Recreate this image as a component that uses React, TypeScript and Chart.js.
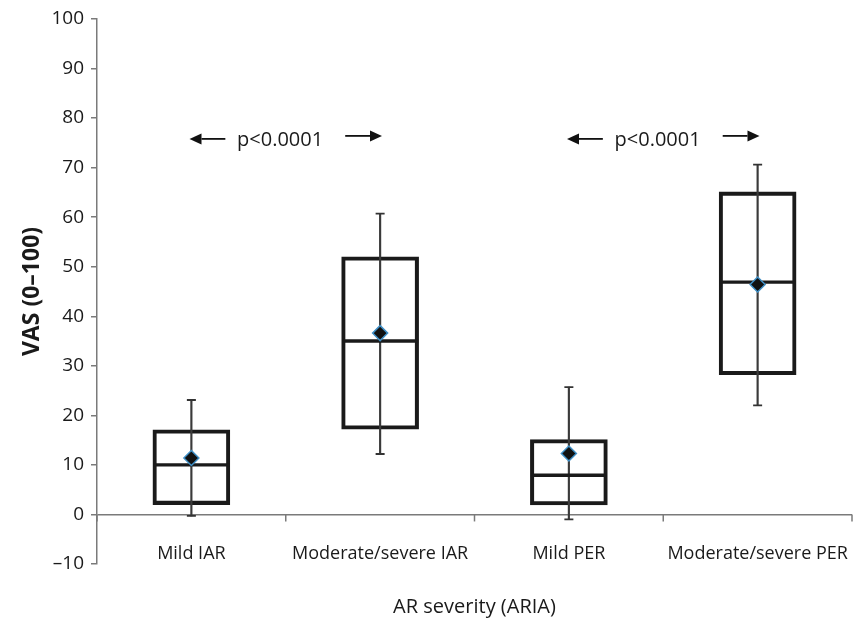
import React, { useEffect, useRef } from "react";
import { Chart, registerables } from "chart.js";

Chart.register(...registerables);

// ---- data ----
const categories = ["Mild IAR", "Moderate/severe IAR", "Mild PER", "Moderate/severe PER"];
const whiskerLow = [-0.3, 12.2, -1.0, 22.0];
const boxLow = [2.0, 17.2, 1.9, 28.2];
const medians = [10.0, 35.0, 7.9, 46.9];
const boxHigh = [17.1, 52.0, 15.1, 65.1];
const whiskerHigh = [23.1, 60.7, 25.7, 70.6];
const means = [11.4, 36.6, 12.3, 46.4];

const yMin = -10;
const yMax = 100;
const yStep = 10;

// comparisons: [from category index, to category index]
const comparisonFrom = [0, 2];
const comparisonTo = [1, 3];
const comparisonLabels = ["p<0.0001", "p<0.0001"];
const comparisonLevel = [75.8, 75.8];

const yTitle = "VAS (0\u2013100)";
const xTitle = "AR severity (ARIA)";

const FONT = "'Open Sans', 'DejaVu Sans', sans-serif";
const TEXT = "#1a1a1a";
const AXIS = "#7a7a7a";
const BOX = "#1a1a1a";

const zeroAxisPlugin = {
  id: "zeroAxis",
  afterDatasetsDraw(chart: any) {
    const x = chart.scales.x;
    const y = chart.scales.y;
    const y0 = y.getPixelForValue(0);
    const ctx = chart.ctx;
    ctx.save();
    ctx.strokeStyle = AXIS;
    ctx.lineWidth = 1.5;
    for (let i = 0; i <= categories.length; i++) {
      const px = x.getPixelForValue(i - 0.5);
      ctx.beginPath();
      ctx.moveTo(px, y0);
      ctx.lineTo(px, y0 + 7);
      ctx.stroke();
    }
    // category labels, placed just above the -10 level
    ctx.fillStyle = TEXT;
    ctx.font = `18px ${FONT}`;
    ctx.textAlign = "center";
    ctx.textBaseline = "middle";
    const ly = y.getPixelForValue(-8.0);
    for (let i = 0; i < categories.length; i++) {
      ctx.fillText(categories[i], x.getPixelForValue(i), ly);
    }
    ctx.restore();
  },
};

function drawArrow(ctx: any, fromX: number, toX: number, yy: number) {
  const dir = toX > fromX ? 1 : -1;
  const head = 12;
  ctx.beginPath();
  ctx.moveTo(fromX, yy);
  ctx.lineTo(toX - dir * head, yy);
  ctx.stroke();
  ctx.beginPath();
  ctx.moveTo(toX, yy);
  ctx.lineTo(toX - dir * head, yy - 5.5);
  ctx.lineTo(toX - dir * head, yy + 5.5);
  ctx.closePath();
  ctx.fill();
}

const comparisonPlugin = {
  id: "comparisons",
  afterDatasetsDraw(chart: any) {
    const x = chart.scales.x;
    const y = chart.scales.y;
    const ctx = chart.ctx;
    ctx.save();
    ctx.lineWidth = 1.8;
    for (let k = 0; k < comparisonFrom.length; k++) {
      const a = comparisonFrom[k];
      const b = comparisonTo[k];
      const span = b - a;
      const yy = y.getPixelForValue(comparisonLevel[k]);
      ctx.strokeStyle = "#111";
      ctx.fillStyle = "#111";
      drawArrow(ctx, x.getPixelForValue(a + 0.18 * span), x.getPixelForValue(a - 0.01 * span), yy);
      drawArrow(ctx, x.getPixelForValue(a + 0.815 * span), x.getPixelForValue(a + 1.01 * span), yy - 3);
      ctx.font = `20px ${FONT}`;
      ctx.fillStyle = TEXT;
      ctx.textAlign = "center";
      ctx.textBaseline = "middle";
      ctx.fillText(comparisonLabels[k], x.getPixelForValue(a + 0.47 * span), yy + 1);
    }
    ctx.restore();
  },
};

export default function App() {
  const ref = useRef<HTMLCanvasElement | null>(null);

  useEffect(() => {
    if (!ref.current) return;
    const chart = new Chart(ref.current, {
      type: "bar",
      data: {
        labels: categories,
        datasets: [
          {
            type: "line",
            label: "mean",
            data: means,
            showLine: false,
            pointStyle: "rectRot",
            pointRadius: 7.5,
            pointBackgroundColor: "#111111",
            pointBorderColor: "#3f8fc6",
            pointBorderWidth: 1.5,
            order: 0,
          } as any,
          {
            type: "line",
            label: "median",
            data: medians,
            showLine: false,
            pointStyle: "line",
            pointRadius: 38,
            pointBorderColor: BOX,
            pointBorderWidth: 3.4,
            order: 1,
          } as any,
          {
            type: "line",
            label: "capHigh",
            data: whiskerHigh,
            showLine: false,
            pointStyle: "line",
            pointRadius: 4.5,
            pointBorderColor: "#333",
            pointBorderWidth: 1.8,
            order: 2,
          } as any,
          {
            type: "line",
            label: "capLow",
            data: whiskerLow,
            showLine: false,
            pointStyle: "line",
            pointRadius: 4.5,
            pointBorderColor: "#333",
            pointBorderWidth: 1.8,
            order: 2,
          } as any,
          {
            type: "bar",
            label: "whisker",
            data: whiskerLow.map((v, i) => [v, whiskerHigh[i]]),
            backgroundColor: "#3a3a3a",
            borderWidth: 0,
            barThickness: 1.5,
            grouped: false,
            order: 3,
          } as any,
          {
            type: "bar",
            label: "box",
            data: boxLow.map((v, i) => [v, boxHigh[i]]),
            backgroundColor: "rgba(0,0,0,0)",
            borderColor: BOX,
            borderWidth: 3.4,
            borderSkipped: false,
            barThickness: 77,
            grouped: false,
            order: 4,
          } as any,
        ],
      },
      options: {
        responsive: false,
        animation: false,
        devicePixelRatio: 1,
        events: [],
        layout: { autoPadding: false, padding: { top: 19, right: 7, left: 0, bottom: 0 } },
        plugins: {
          legend: { display: false },
          tooltip: { enabled: false },
        },
        scales: {
          x: {
            type: "category",
            grid: { display: false, drawTicks: false },
            border: { display: false },
            ticks: { display: false },
            title: {
              display: true,
              text: xTitle,
              color: TEXT,
              font: { family: FONT, size: 20 },
              padding: { top: 0, bottom: 0 },
            },
            afterFit: (s: any) => {
              s.height = 55;
            },
          },
          y: {
            min: yMin,
            max: yMax,
            ticks: {
              stepSize: yStep,
              color: TEXT,
              font: { family: FONT, size: 19 },
              padding: 7,
              callback: (v: any) => (v < 0 ? "\u2013" + Math.abs(v) : String(v)),
            },
            grid: {
              drawTicks: true,
              tickLength: 6,
              tickColor: AXIS,
              lineWidth: 1.5,
              color: (c: any) => (c.tick && c.tick.value === 0 ? AXIS : "rgba(0,0,0,0)"),
            },
            border: { display: true, color: AXIS, width: 1.5 },
            title: {
              display: true,
              text: yTitle,
              color: TEXT,
              font: { family: FONT, size: 23, weight: "bold" },
              padding: { top: 19, bottom: 0 },
            },
            afterFit: (s: any) => {
              s.width = 97;
            },
          },
        },
      } as any,
      plugins: [zeroAxisPlugin, comparisonPlugin],
    });
    return () => chart.destroy();
  }, []);

  return (
    <div style={{ position: "absolute", left: 0, top: 0, width: 859, height: 619, background: "#fff" }}>
      <canvas ref={ref} width={859} height={619} style={{ display: "block" }} />
    </div>
  );
}
